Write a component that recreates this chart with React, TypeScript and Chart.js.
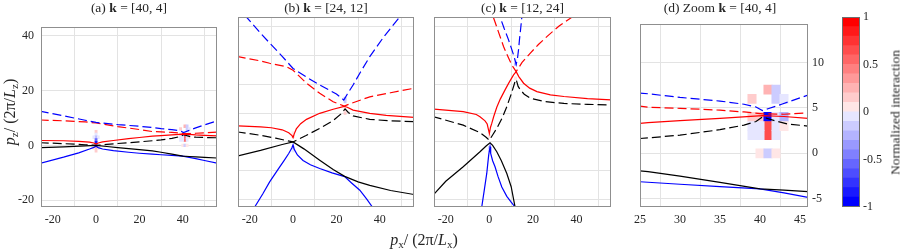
import React, { useEffect, useRef } from "react";
import { Chart, registerables } from "chart.js";
Chart.register(...registerables);

type Pt = [number, number];
type Cell = [number, number, number];

// ---------- tick labels / grid values ----------
const X_TICKS_MAIN = [-20, 0, 20, 40];
const Y_TICKS_MAIN = [-20, 0, 20, 40];
const Y_GRID_FINE = [-20, -10, 0, 10, 20, 30, 40];
const X_TICKS_ZOOM = [25, 30, 35, 40, 45];
const Y_TICKS_ZOOM = [-5, 0, 5, 10];
const CBAR_TICKS = [-1, -0.5, 0, 0.5, 1];
const CBAR_LEVELS = [-1, -0.9, -0.8, -0.7, -0.6, -0.5, -0.4, -0.3, -0.2, -0.1, 0, 0.1, 0.2, 0.3, 0.4, 0.5, 0.6, 0.7, 0.8, 0.9, 1];

const X_RANGE_MAIN: [number, number] = [-25.4, 55.8];
const Y_RANGE_MAIN: [number, number] = [-22.5, 43.2];
const X_RANGE_ZOOM: [number, number] = [25, 46];
const Y_RANGE_ZOOM: [number, number] = [-5.9, 14.2];

// ---------- k = [40, 4]  (panels a and d) ----------
const A_BLUE_DASH: Pt[] = [[-26, 12.5], [-15, 10.8], [-5, 9.2], [0, 8.4], [10, 7.6], [20, 7.0], [26, 6.55], [30, 6.15], [35, 5.75], [38, 5.4], [39.5, 5.1], [40.3, 4.7], [41, 4.9], [42.7, 5.4], [46, 6.4], [50, 7.5], [56, 9.0]];
const A_RED_DASH: Pt[] = [[-26, 9.3], [-15, 9.0], [-5, 8.6], [0, 8.2], [10, 6.9], [20, 5.8], [26, 5.07], [30, 4.95], [35, 4.75], [38, 4.55], [40.3, 4.35], [43, 4.3], [46, 4.45], [50, 4.6], [56, 4.9]];
const A_RED_SOLID: Pt[] = [[-26, 1.8], [-15, 1.7], [-8, 1.5], [-3, 1.2], [-1, 0.9], [0, 0.5], [1, 0.9], [3, 1.3], [8, 1.8], [15, 2.5], [20, 2.9], [26, 3.37], [30, 3.6], [35, 3.85], [40.3, 4.15], [43, 4.05], [46, 3.85], [50, 3.7], [56, 3.5]];
const A_BLACK_DASH: Pt[] = [[-26, 1.0], [-15, 0.65], [-5, 0.25], [0, 0], [5, 0.35], [10, 0.7], [20, 1.3], [26, 1.7], [30, 2.0], [35, 2.6], [38, 3.1], [39.5, 3.5], [40.3, 4.0], [41.9, 3.58], [43.5, 3.22], [46, 3.0], [50, 2.9], [56, 2.8]];
const A_BLACK_SOLID: Pt[] = [[-26, -0.8], [-15, -0.5], [-5, -0.15], [0, 0], [5, -0.4], [10, -0.8], [20, -1.5], [26, -2.0], [30, -2.5], [35, -3.2], [40, -3.9], [43, -4.05], [46, -4.2], [50, -4.4], [56, -4.6]];
const A_BLUE_SOLID: Pt[] = [[-26, -6.6], [-15, -4.3], [-8, -2.7], [-3, -1.3], [-1, -0.7], [0, -0.3], [1, -0.8], [3, -1.3], [8, -1.9], [15, -2.5], [20, -2.85], [26, -3.18], [30, -3.4], [35, -3.65], [40, -3.9], [43, -4.35], [46, -4.85], [50, -5.5], [56, -6.5]];

// ---------- k = [24, 12]  (panel b) ----------
const B_BLUE_DASH: Pt[] = [[-26, 47.4], [-21.5, 43.2], [-15, 37.6], [-10.8, 34.2], [-5, 29.6], [0, 25.4], [6, 22.5], [12.3, 19.7], [20, 16.6], [23.4, 14.5], [25, 16.5], [27.7, 19.7], [31, 24.0], [35.4, 29.5], [42, 36.5], [49.2, 43.2], [53, 47]];
const B_RED_DASH: Pt[] = [[-26, 29.6], [-15, 28.0], [-10.8, 27.2], [-3.1, 26.0], [0, 24.8], [6.2, 20.3], [12.3, 16.8], [18.5, 13.9], [23.6, 12.4], [27, 13.4], [35.4, 15.6], [45, 17.0], [56, 18.6]];
const B_RED_SOLID: Pt[] = [[-26, 5.6], [-15, 5.2], [-10, 4.9], [-5, 4.2], [-2, 3.2], [-0.5, 2.2], [0, 1.5], [0.5, 2.7], [1.5, 4.5], [3.5, 6.3], [6.2, 7.8], [12.3, 9.9], [18.5, 11.3], [23.6, 12.3], [25, 12.0], [27.7, 11.0], [35.4, 9.9], [43, 9.2], [56, 8.5]];
const B_BLACK_DASH: Pt[] = [[-26, 3.5], [-15, 2.3], [-8, 1.3], [0, 0], [6, 2.2], [12.3, 4.7], [18.5, 7.4], [22, 9.6], [24, 11.4], [25.5, 10.2], [27.7, 9.0], [35.4, 7.8], [45, 7.3], [56, 7.0]];
const B_BLACK_SOLID: Pt[] = [[-26, -4.9], [-15, -2.9], [-5, -0.9], [0, 0], [5, -2.4], [12.3, -6.3], [18.5, -9.5], [23.8, -11.9], [30, -13.8], [35.4, -15.0], [45, -16.8], [56, -18.2]];
const B_BLUE_SOLID: Pt[] = [[-19.5, -25], [-17.7, -22.5], [-14, -18], [-10.8, -13.8], [-7, -9.6], [-4, -6.3], [-2, -4.0], [-0.5, -2], [0, -1.0], [0.5, -2.5], [2, -4.5], [4.6, -6.4], [8, -7.9], [12.3, -9.2], [18, -10.7], [23.8, -12.0], [27, -14.2], [30.8, -16.7], [34, -19.8], [36.6, -22.5], [38.5, -25]];

// ---------- k = [12, 24]  (panel c) ----------
const C_BLUE_DASH: Pt[] = [[4, 46], [4.9, 43.2], [6.8, 39.2], [8.8, 35.3], [10, 32.6], [11.1, 30.1], [12.3, 26.8], [12.9, 28.9], [13.4, 32], [13.8, 35.3], [14.4, 39.5], [14.9, 43.2], [15.3, 46]];
const C_RED_DASH: Pt[] = [[0, 47.2], [1.8, 43.2], [4, 38.4], [6.5, 33], [8.5, 29.5], [10.3, 26.6], [12.3, 24.3], [15, 27.5], [18.8, 30.7], [22.5, 33.7], [26.5, 36.5], [32, 40.1], [38, 43.2], [45, 47]];
const C_RED_SOLID: Pt[] = [[-26, 11.4], [-12, 10.5], [-6, 9.5], [-4.3, 8.7], [-2, 7.3], [-1, 6.2], [0, 2.9], [0.5, 5.0], [1.1, 6.4], [2, 8.8], [3.4, 12.0], [5, 14.8], [7.2, 18], [9, 20.5], [11.1, 23.2], [12.3, 24.3], [13.5, 22.6], [15.7, 20.3], [18.5, 18.6], [21.8, 17.4], [28, 16.3], [34.2, 15.7], [45, 15.0], [56, 14.5]];
const C_BLACK_DASH: Pt[] = [[-26, 8.8], [-12, 5.8], [-4.3, 3.2], [-1.5, 1.6], [0, 0.6], [1.5, 2.4], [3.4, 4.7], [6, 8.5], [8, 12.2], [10, 16.5], [11.8, 20.9], [12.3, 21.6], [13.2, 19.2], [14.2, 18.0], [16, 16.5], [18.8, 15.1], [25, 14.0], [34.2, 13.3], [45, 13.0], [56, 12.8]];
const C_BLACK_SOLID: Pt[] = [[-26, -18.5], [-20, -13.6], [-12, -8.6], [-4.3, -3.4], [-1.5, -1.4], [0.3, -0.3], [1.5, -1.2], [3.4, -3.4], [5.5, -6.5], [8, -10.9], [10, -15.5], [11.8, -22.5], [12.5, -25]];
const C_BLUE_SOLID: Pt[] = [[-4, -25], [-3.5, -22.5], [-2.3, -16.5], [-1.2, -10.9], [-0.8, -8], [-0.3, -4.5], [0.3, -1.7], [0.6, -4], [1.5, -6.5], [2.6, -8.6], [4, -12], [5.7, -15.6], [8, -18.8], [10, -20.8], [11.8, -22.5], [13, -24]];

// ---------- interaction cells [px, pz, value] ----------
const CELLS_K40: Cell[] = [
  [41, 7, 0.25], [42, 7, -0.15], [42, 6, -0.15], [43, 6, -0.05], [39, 6, 0.15],
  [39, 4, 0.15], [40, 4, 0.15], [41, 4, -0.95], [42, 4, -0.05], [43, 4, -0.25],
  [41, 3, 0.6], [41, 2, 0.6], [42, 3, -0.1], [42, 2, -0.1], [43, 3, 0.05],
  [39, 3, -0.05], [40, 3, -0.05], [39, 2, -0.05], [40, 2, -0.05],
  [40, 0, 0.05], [41, 0, -0.15], [42, 0, 0.05],
];
const CELLS_A0: Cell[] = [
  [0, 5, 0.15], [0, 4, -0.1], [0, 3, -0.25], [-1, 3, -0.05], [1, 3, -0.05],
  [0, 2, -0.6], [0, 1, -0.85], [0, -1, 0.25], [0, -2, 0.15], [-1, -1, 0.05], [1, -1, 0.05],
];
const CELLS_B: Cell[] = [
  [0, 2, 0.15], [0, 3, 0.05], [0, -2, -0.15], [0, -3, -0.05],
  [24, 15, -0.25], [24, 14, -0.15], [24, 10, 0.15], [24, 11, 0.05],
];
const CELLS_C: Cell[] = [
  [0, -2, -0.15], [0, -3, -0.1], [0, 2, 0.05],
  [12, 27, -0.25], [12, 28, -0.1], [12, 22, 0.05],
];

// ---------- styling ----------
const FONT_FAMILY = "'Liberation Serif', 'Times New Roman', serif";
const TEXT = "#262626";
const GRID = "#e3e3e3";
const FRAME = "#8f8f8f";
const RED = "#ff0000";
const BLUE = "#0000ff";
const BLACK = "#000000";

const PLOT_TOP = 17;
const PLOT_H = 190;

function colorFor(v: number): string {
  let band = Math.floor((v + 1) / 0.1 + 1e-9);
  band = Math.max(0, Math.min(19, band));
  if (band >= 10) {
    const s = (band - 9) / 10;
    const g = Math.round(255 * (1 - s));
    return `rgb(255,${g},${g})`;
  }
  const s = (10 - band) / 10;
  const g = Math.round(255 * (1 - s));
  return `rgb(${g},${g},255)`;
}

const framePlugin = {
  id: "frameBox",
  afterDraw(chart: any, _args: any, opts: any) {
    const a = chart.chartArea;
    const ctx = chart.ctx;
    ctx.save();
    ctx.strokeStyle = (opts && opts.color) || FRAME;
    ctx.lineWidth = 1;
    ctx.strokeRect(Math.round(a.left) + 0.5, Math.round(a.top) + 0.5, Math.round(a.right - a.left) - 1, Math.round(a.bottom - a.top) - 1);
    ctx.restore();
  },
};

type Line = { pts: Pt[]; color: string; dash: boolean };
type PanelSpec = {
  left: number;
  w: number;
  xr: [number, number];
  yr: [number, number];
  xTicks: number[];
  yTicks: number[];
  yLabels: boolean;
  yRight?: boolean;
  lines: Line[];
  cells: Cell[];
};

const tickFont = { family: FONT_FAMILY, size: 12 };

function geo(s: PanelSpec) {
  const padL = s.yRight ? 4 : s.yLabels ? 40 : 4;
  const padR = s.yRight ? 30 : 4;
  const padT = 4;
  const padB = 33;
  return { padL, padR, padT, padB, cw: padL + s.w + padR, ch: padT + PLOT_H + padB };
}

function Panel({ spec }: { spec: PanelSpec }) {
  const ref = useRef<HTMLCanvasElement>(null);
  const g = geo(spec);
  useEffect(() => {
    const canvas = ref.current!;
    const datasets: any[] = spec.lines.map((l) => ({
      type: "scatter",
      data: l.pts.map(([x, y]) => ({ x, y })),
      showLine: true,
      borderColor: l.color,
      backgroundColor: l.color,
      borderWidth: 1.2,
      borderDash: l.dash ? [9, 4] : [],
      pointRadius: 0,
      pointHoverRadius: 0,
      tension: 0,
      order: 1,
    }));
    datasets.push({
      type: "bar",
      data: spec.cells.map(([x, y]) => ({ x, y: [y - 0.5, y + 0.5] })),
      backgroundColor: spec.cells.map((c) => colorFor(c[2])),
      barThickness: spec.w / (spec.xr[1] - spec.xr[0]),
      grouped: false,
      borderWidth: 0,
      order: 10,
    });
    const chart = new Chart(canvas, {
      type: "scatter",
      data: { datasets },
      options: {
        responsive: false,
        animation: false,
        events: [],
        layout: {
          padding: {
            left: spec.yRight ? g.padL : 0,
            right: spec.yRight ? 0 : g.padR,
            top: g.padT,
            bottom: 0,
          },
        },
        plugins: { legend: { display: false }, tooltip: { enabled: false }, title: { display: false } },
        scales: {
          x: {
            type: "linear",
            min: spec.xr[0],
            max: spec.xr[1],
            offset: false,
            afterBuildTicks: (sc: any) => {
              sc.ticks = spec.xTicks.map((v) => ({ value: v }));
            },
            afterFit: (sc: any) => {
              sc.height = g.padB;
            },
            grid: { color: GRID, drawTicks: false, lineWidth: 1 },
            border: { display: false },
            ticks: { font: tickFont, color: TEXT, padding: 6, maxRotation: 0, autoSkip: false, callback: (v: any) => String(v) },
          },
          y: {
            type: "linear",
            position: spec.yRight ? "right" : "left",
            min: spec.yr[0],
            max: spec.yr[1],
            afterBuildTicks: (sc: any) => {
              sc.ticks = spec.yTicks.map((v) => ({ value: v }));
            },
            afterFit: (sc: any) => {
              sc.width = spec.yRight ? g.padR : g.padL;
            },
            grid: { color: GRID, drawTicks: false, lineWidth: 1 },
            border: { display: false },
            ticks: {
              display: spec.yLabels,
              font: tickFont,
              color: TEXT,
              padding: spec.yRight ? 4 : 7,
              autoSkip: false,
              callback: (v: any) => String(v),
            },
          },
        },
      } as any,
      plugins: [framePlugin],
    } as any);
    return () => chart.destroy();
  }, []);
  return (
    <canvas
      ref={ref}
      width={g.cw}
      height={g.ch}
      style={{ position: "absolute", left: spec.left - g.padL, top: PLOT_TOP - g.padT, width: g.cw, height: g.ch }}
    />
  );
}

function ColorBar({ left, w }: { left: number; w: number }) {
  const ref = useRef<HTMLCanvasElement>(null);
  const padT = 10, padB = 10, padL = 4, padR = 30;
  const cw = padL + w + padR;
  const ch = padT + PLOT_H + padB;
  useEffect(() => {
    const canvas = ref.current!;
    const datasets = CBAR_LEVELS.slice(0, -1).map((lo, i) => ({
      data: [[lo, CBAR_LEVELS[i + 1]]],
      backgroundColor: colorFor((lo + CBAR_LEVELS[i + 1]) / 2),
      barPercentage: 1,
      categoryPercentage: 1,
      grouped: false,
      borderWidth: 0,
      inflateAmount: 0.5,
    }));
    const chart = new Chart(canvas, {
      type: "bar",
      data: { labels: [""], datasets },
      options: {
        responsive: false,
        animation: false,
        events: [],
        layout: { padding: { left: padL, right: 0, top: padT, bottom: padB } },
        plugins: { legend: { display: false }, tooltip: { enabled: false }, frameBox: { color: "#6e6e6e" } },
        scales: {
          x: { display: false },
          y: {
            type: "linear",
            position: "right",
            min: -1,
            max: 1,
            afterBuildTicks: (sc: any) => {
              sc.ticks = CBAR_TICKS.map((v) => ({ value: v }));
            },
            afterFit: (sc: any) => {
              sc.width = padR;
            },
            grid: { display: false, drawTicks: false },
            border: { display: false },
            ticks: { font: tickFont, color: TEXT, padding: 3, autoSkip: false, callback: (v: any) => String(v) },
          },
        },
      } as any,
      plugins: [framePlugin],
    } as any);
    return () => chart.destroy();
  }, []);
  return (
    <canvas
      ref={ref}
      width={cw}
      height={ch}
      style={{ position: "absolute", left: left - padL, top: PLOT_TOP - padT, width: cw, height: ch }}
    />
  );
}

const A_LINES: Line[] = [
  { pts: A_BLUE_DASH, color: BLUE, dash: true },
  { pts: A_RED_DASH, color: RED, dash: true },
  { pts: A_RED_SOLID, color: RED, dash: false },
  { pts: A_BLACK_DASH, color: BLACK, dash: true },
  { pts: A_BLACK_SOLID, color: BLACK, dash: false },
  { pts: A_BLUE_SOLID, color: BLUE, dash: false },
];
const B_LINES: Line[] = [
  { pts: B_BLUE_DASH, color: BLUE, dash: true },
  { pts: B_RED_DASH, color: RED, dash: true },
  { pts: B_RED_SOLID, color: RED, dash: false },
  { pts: B_BLACK_DASH, color: BLACK, dash: true },
  { pts: B_BLACK_SOLID, color: BLACK, dash: false },
  { pts: B_BLUE_SOLID, color: BLUE, dash: false },
];
const C_LINES: Line[] = [
  { pts: C_BLUE_DASH, color: BLUE, dash: true },
  { pts: C_RED_DASH, color: RED, dash: true },
  { pts: C_RED_SOLID, color: RED, dash: false },
  { pts: C_BLACK_DASH, color: BLACK, dash: true },
  { pts: C_BLACK_SOLID, color: BLACK, dash: false },
  { pts: C_BLUE_SOLID, color: BLUE, dash: false },
];

const PANELS: PanelSpec[] = [
  { left: 41, w: 176, xr: X_RANGE_MAIN, yr: Y_RANGE_MAIN, xTicks: X_TICKS_MAIN, yTicks: Y_TICKS_MAIN, yLabels: true, lines: A_LINES, cells: [...CELLS_A0, ...CELLS_K40] },
  { left: 238, w: 176, xr: X_RANGE_MAIN, yr: Y_RANGE_MAIN, xTicks: X_TICKS_MAIN, yTicks: Y_GRID_FINE, yLabels: false, lines: B_LINES, cells: CELLS_B },
  { left: 434, w: 177, xr: X_RANGE_MAIN, yr: Y_RANGE_MAIN, xTicks: X_TICKS_MAIN, yTicks: Y_GRID_FINE, yLabels: false, lines: C_LINES, cells: CELLS_C },
  { left: 632, w: 176, xr: X_RANGE_ZOOM, yr: Y_RANGE_ZOOM, xTicks: X_TICKS_ZOOM, yTicks: Y_TICKS_ZOOM, yLabels: true, yRight: true, lines: A_LINES, cells: CELLS_K40 },
];

const TITLES: { pre: string; vec: string }[] = [
  { pre: "(a) ", vec: "[40, 4]" },
  { pre: "(b) ", vec: "[24, 12]" },
  { pre: "(c) ", vec: "[12, 24]" },
  { pre: "(d) Zoom ", vec: "[40, 4]" },
];

const textBase: React.CSSProperties = { position: "absolute", fontFamily: FONT_FAMILY, color: TEXT, whiteSpace: "nowrap" };
const subStyle: React.CSSProperties = { fontSize: "0.7em", verticalAlign: "-0.3em", lineHeight: 0 };

export default function App() {
  return (
    <div style={{ position: "absolute", left: 0, top: 0, width: 900, height: 250, background: "#ffffff", overflow: "hidden" }}>
      {PANELS.map((p, i) => (
        <Panel key={i} spec={p} />
      ))}
      <ColorBar left={842} w={18} />
      {PANELS.map((p, i) => (
        <div key={"t" + i} style={{ ...textBase, left: p.left, width: p.w, top: 0, textAlign: "center", fontSize: 13.5, lineHeight: "15px" }}>
          {TITLES[i].pre}
          <b>k</b>
          {" = " + TITLES[i].vec}
        </div>
      ))}
      <div style={{ ...textBase, left: 324, width: 200, top: 231, textAlign: "center", fontSize: 16, lineHeight: "18px" }}>
        <i>p</i>
        <span style={subStyle}>x</span>/ (2π/<i>L</i>
        <span style={subStyle}>x</span>)
      </div>
      <div
        style={{ ...textBase, left: 10 - 100, width: 200, top: 112 - 9, height: 18, textAlign: "center", fontSize: 16, lineHeight: "18px", transform: "rotate(-90deg)", transformOrigin: "50% 50%" }}
      >
        <i>p</i>
        <span style={subStyle}>z</span>/ (2π/<i>L</i>
        <span style={subStyle}>z</span>)
      </div>
      <div
        style={{ ...textBase, left: 894.5 - 100, width: 200, top: 112 - 7.5, height: 15, textAlign: "center", fontSize: 13.5, lineHeight: "15px", transform: "rotate(-90deg)", transformOrigin: "50% 50%" }}
      >
        Normalized interaction
      </div>
    </div>
  );
}
